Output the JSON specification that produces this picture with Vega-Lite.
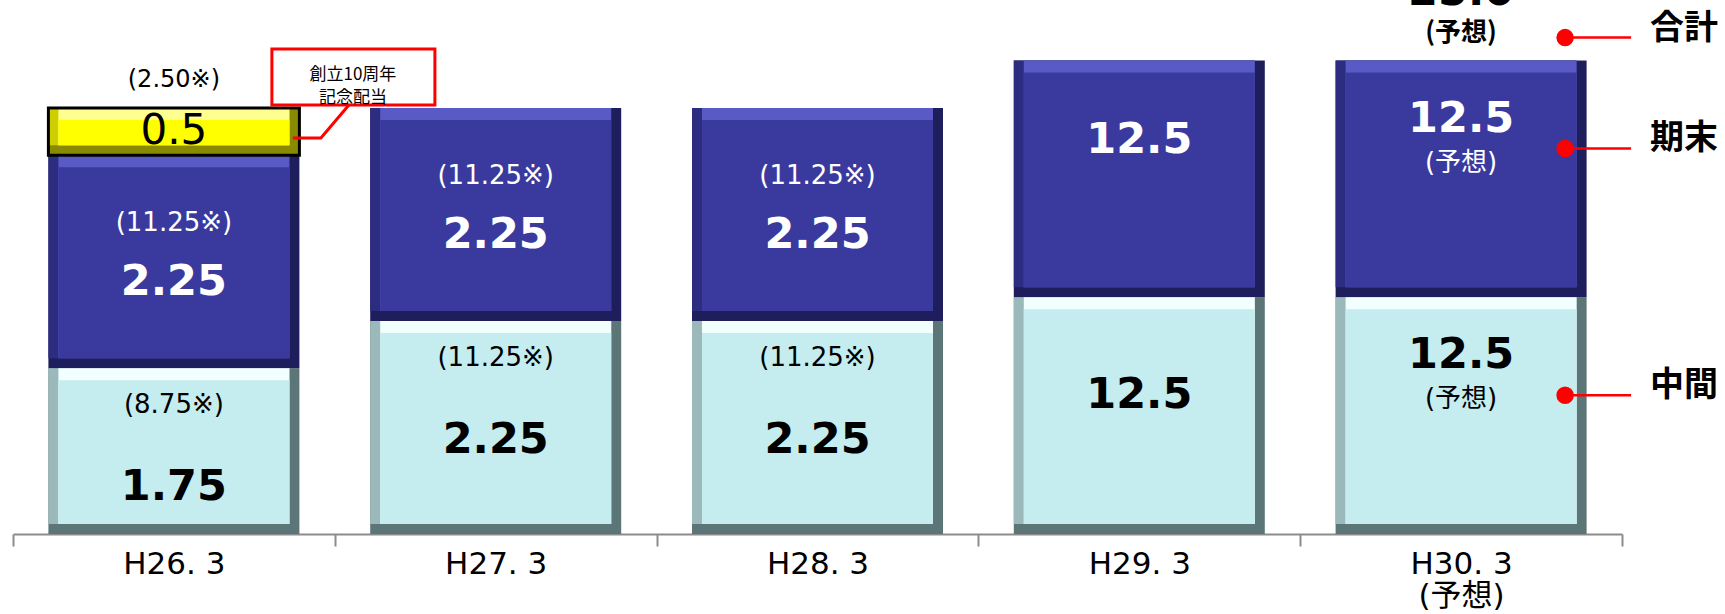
{
  "$schema": "https://vega.github.io/schema/vega-lite/v6.json",
  "width": 1725,
  "height": 534,
  "padding": {"left": 0, "top": 0, "right": 0, "bottom": 80},
  "autosize": {"type": "none"},
  "background": "white",
  "config": {
    "view": {"stroke": null},
    "text": {"font": "DejaVu Sans, Noto Sans CJK JP", "baseline": "middle", "align": "center"}
  },
  "data": {
    "values": [
      {"period": "H26. 3", "part": "中間", "seq": 1, "value": 8.75, "main": "1.75", "note": "(8.75※)"},
      {"period": "H26. 3", "part": "期末", "seq": 2, "value": 11.25, "main": "2.25", "note": "(11.25※)"},
      {"period": "H26. 3", "part": "記念", "seq": 3, "value": 2.5, "main": "0.5", "note": "(2.50※)", "callout": "創立10周年\n記念配当"},
      {"period": "H27. 3", "part": "中間", "seq": 1, "value": 11.25, "main": "2.25", "note": "(11.25※)"},
      {"period": "H27. 3", "part": "期末", "seq": 2, "value": 11.25, "main": "2.25", "note": "(11.25※)"},
      {"period": "H28. 3", "part": "中間", "seq": 1, "value": 11.25, "main": "2.25", "note": "(11.25※)"},
      {"period": "H28. 3", "part": "期末", "seq": 2, "value": 11.25, "main": "2.25", "note": "(11.25※)"},
      {"period": "H29. 3", "part": "中間", "seq": 1, "value": 12.5, "main": "12.5"},
      {"period": "H29. 3", "part": "期末", "seq": 2, "value": 12.5, "main": "12.5"},
      {"period": "H30. 3\n(予想)", "part": "中間", "seq": 1, "value": 12.5, "main": "12.5", "sub": "(予想)", "key": "中間"},
      {"period": "H30. 3\n(予想)", "part": "期末", "seq": 2, "value": 12.5, "main": "12.5", "sub": "(予想)", "key": "期末", "total": "25.0", "totalNote": "(予想)", "totalKey": "合計"}
    ]
  },
  "transform": [
    {"stack": "value", "groupby": ["period"], "sort": [{"field": "seq", "order": "ascending"}], "as": ["v0", "v1"]}
  ],
  "encoding": {
    "x": {
      "field": "period",
      "type": "nominal",
      "sort": null,
      "scale": {"range": [13, 1622], "paddingInner": 0, "paddingOuter": 0},
      "axis": {
        "title": null,
        "labelAngle": 0,
        "labelExpr": "split(datum.label, '\\n')",
        "labelFont": "DejaVu Sans, Noto Sans CJK JP",
        "labelFontSize": 31,
        "labelLineHeight": 32,
        "labelColor": "black",
        "labelPadding": 3,
        "labelOverlap": false,
        "domainColor": "#8c8c8c",
        "domainWidth": 2,
        "tickColor": "#8c8c8c",
        "tickWidth": 2,
        "tickSize": 12,
        "tickBand": "extent"
      }
    },
    "y": {"field": "v1", "type": "quantitative", "scale": {"domain": [0, 28.2], "nice": false}, "axis": null}
  },
  "layer": [
    {
      "mark": {"type": "bar", "width": 251},
      "encoding": {
        "y2": {"field": "v0"},
        "fill": {"condition": [{"test": "datum.part==='期末'", "value": "#1E1E5C"}, {"test": "datum.part==='記念'", "value": "#8A8A00"}], "value": "#5C7677"}
      }
    },
    {
      "mark": {"type": "bar", "width": 241, "xOffset": -5, "y2Offset": -10},
      "encoding": {
        "y2": {"field": "v0"},
        "fill": {"condition": [{"test": "datum.part==='期末'", "value": "#2C2C80"}, {"test": "datum.part==='記念'", "value": "#CFCF00"}], "value": "#9BB9BA"}
      }
    },
    {
      "mark": {"type": "bar", "width": 231, "y2Offset": -10},
      "encoding": {
        "y2": {"field": "v0"},
        "fill": {"condition": [{"test": "datum.part==='期末'", "value": "#5A5AC6"}, {"test": "datum.part==='記念'", "value": "#FFFF90"}], "value": "#F2FFFF"}
      }
    },
    {
      "mark": {"type": "bar", "width": 231, "yOffset": 12, "y2Offset": -10},
      "encoding": {
        "y2": {"field": "v0"},
        "fill": {"condition": [{"test": "datum.part==='期末'", "value": "#3A3A9E"}, {"test": "datum.part==='記念'", "value": "#FFFF00"}], "value": "#C5ECEE"}
      }
    },
    {
      "transform": [{"filter": "datum.part==='記念'"}],
      "mark": {"type": "bar", "width": 251, "filled": false, "color": "black", "strokeWidth": 3},
      "encoding": {"y2": {"field": "v0"}}
    },
    {
      "transform": [{"filter": "datum.part==='中間' && datum.note"}],
      "mark": {"type": "text", "dy": 37, "fontSize": 26, "color": "black"},
      "encoding": {"text": {"field": "note"}}
    },
    {
      "transform": [{"filter": "datum.part==='中間' && datum.note"}],
      "mark": {"type": "text", "dy": 119, "fontSize": 43, "fontWeight": "bold", "color": "black"},
      "encoding": {"text": {"field": "main"}}
    },
    {
      "transform": [{"filter": "datum.part==='期末' && datum.note"}],
      "mark": {"type": "text", "dy": 68, "fontSize": 26, "color": "white"},
      "encoding": {"text": {"field": "note"}}
    },
    {
      "transform": [{"filter": "datum.part==='期末' && datum.note"}],
      "mark": {"type": "text", "dy": 127, "fontSize": 43, "fontWeight": "bold", "color": "white"},
      "encoding": {"text": {"field": "main"}}
    },
    {
      "transform": [{"filter": "datum.part==='中間' && !datum.note && !datum.sub"}],
      "mark": {"type": "text", "dy": 98, "fontSize": 43, "fontWeight": "bold", "color": "black"},
      "encoding": {"text": {"field": "main"}}
    },
    {
      "transform": [{"filter": "datum.part==='期末' && !datum.note && !datum.sub"}],
      "mark": {"type": "text", "dy": 79, "fontSize": 43, "fontWeight": "bold", "color": "white"},
      "encoding": {"text": {"field": "main"}}
    },
    {
      "transform": [{"filter": "datum.sub"}],
      "mark": {"type": "text", "dy": 58, "fontSize": 43, "fontWeight": "bold"},
      "encoding": {
        "text": {"field": "main"},
        "color": {"condition": {"test": "datum.part==='期末'", "value": "white"}, "value": "black"}
      }
    },
    {
      "transform": [{"filter": "datum.sub"}],
      "mark": {"type": "text", "dy": 102, "fontSize": 26},
      "encoding": {
        "text": {"field": "sub"},
        "color": {"condition": {"test": "datum.part==='期末'", "value": "white"}, "value": "black"}
      }
    },
    {
      "transform": [{"filter": "datum.part==='記念'"}],
      "mark": {"type": "text", "dy": 23, "fontSize": 42, "color": "black"},
      "encoding": {"text": {"field": "main"}}
    },
    {
      "transform": [{"filter": "datum.part==='記念'"}],
      "mark": {"type": "text", "dy": -28, "fontSize": 24, "color": "black"},
      "encoding": {"text": {"field": "note"}}
    },
    {
      "transform": [{"filter": "datum.total"}],
      "mark": {"type": "text", "dy": -69, "fontSize": 43, "fontWeight": "bold", "color": "black"},
      "encoding": {"text": {"field": "total"}}
    },
    {
      "transform": [{"filter": "datum.total"}],
      "mark": {"type": "text", "dy": -28, "fontSize": 26, "fontWeight": "bold", "color": "black", "font": "Noto Sans CJK JP"},
      "encoding": {"text": {"field": "totalNote"}}
    },
    {
      "transform": [{"filter": "datum.callout"}],
      "mark": {"type": "point", "shape": "M0.98,-0.59H2.61V-0.03H0.98Z", "size": 40000, "filled": true, "fill": "white", "stroke": "#FF0000", "strokeWidth": 3, "opacity": 1}
    },
    {
      "transform": [{"filter": "datum.callout"}],
      "mark": {"type": "point", "shape": "M1.75,-0.03L1.47,0.30H1.19", "size": 40000, "filled": false, "stroke": "#FF0000", "strokeWidth": 3, "opacity": 1}
    },
    {
      "transform": [{"filter": "datum.callout"}],
      "mark": {"type": "text", "lineBreak": "\n", "dx": 179, "dy": -33, "fontSize": 17, "lineHeight": 23, "font": "Noto Sans CJK JP", "color": "black"},
      "encoding": {"text": {"field": "callout"}}
    },
    {
      "transform": [{"filter": "datum.key==='中間'"}],
      "mark": {"type": "point", "shape": "M-0.075,0A0.075,0.075 0 1,0 0.075,0A0.075,0.075 0 1,0 -0.075,0Z M0,0H0.66", "size": 40000, "filled": true, "fill": "#FF0000", "stroke": "#FF0000", "strokeWidth": 2.5, "opacity": 1, "xOffset": 104, "yOffset": 98}
    },
    {
      "transform": [{"filter": "datum.key==='中間'"}],
      "mark": {"type": "text", "align": "left", "dx": 189, "dy": 89, "fontSize": 34, "fontWeight": "bold", "font": "Noto Sans CJK JP", "color": "black"},
      "encoding": {"text": {"field": "key"}}
    },
    {
      "transform": [{"filter": "datum.key==='期末'"}],
      "mark": {"type": "point", "shape": "M-0.075,0A0.075,0.075 0 1,0 0.075,0A0.075,0.075 0 1,0 -0.075,0Z M0,0H0.66", "size": 40000, "filled": true, "fill": "#FF0000", "stroke": "#FF0000", "strokeWidth": 2.5, "opacity": 1, "xOffset": 104, "yOffset": 88}
    },
    {
      "transform": [{"filter": "datum.key==='期末'"}],
      "mark": {"type": "text", "align": "left", "dx": 189, "dy": 78, "fontSize": 34, "fontWeight": "bold", "font": "Noto Sans CJK JP", "color": "black"},
      "encoding": {"text": {"field": "key"}}
    },
    {
      "transform": [{"filter": "datum.totalKey"}],
      "mark": {"type": "point", "shape": "M-0.075,0A0.075,0.075 0 1,0 0.075,0A0.075,0.075 0 1,0 -0.075,0Z M0,0H0.66", "size": 40000, "filled": true, "fill": "#FF0000", "stroke": "#FF0000", "strokeWidth": 2.5, "opacity": 1, "xOffset": 104, "yOffset": -23}
    },
    {
      "transform": [{"filter": "datum.totalKey"}],
      "mark": {"type": "text", "align": "left", "dx": 189, "dy": -32, "fontSize": 34, "fontWeight": "bold", "font": "Noto Sans CJK JP", "color": "black"},
      "encoding": {"text": {"field": "totalKey"}}
    }
  ]
}
